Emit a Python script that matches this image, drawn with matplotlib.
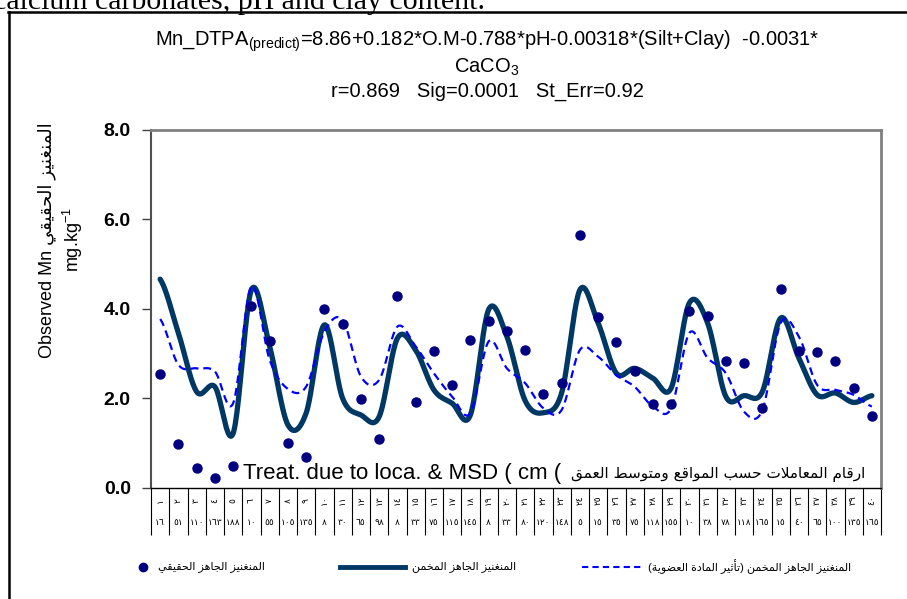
import numpy as np
import matplotlib
matplotlib.use('Agg')
import matplotlib.pyplot as plt
from matplotlib.lines import Line2D

# values (40 treatments)
observed = [2.55, 0.99, 0.45, 0.22, 0.49, 4.07, 3.28, 1.00, 0.70, 4.00,
            3.66, 1.98, 1.09, 4.28, 1.91, 3.05, 2.29, 3.30, 3.72, 3.51,
            3.08, 2.10, 2.34, 5.65, 3.82, 3.26, 2.62, 1.88, 1.87, 3.94,
            3.83, 2.84, 2.80, 1.79, 4.45, 3.05, 3.04, 2.83, 2.24, 1.60]
predicted = [4.66, 3.46, 2.15, 2.26, 1.22, 4.42, 3.16, 1.41, 1.67, 3.64,
             2.00, 1.63, 1.59, 3.34, 3.08, 2.19, 1.89, 1.63, 3.98, 3.38,
             1.95, 1.68, 2.12, 4.42, 3.68, 2.56, 2.67, 2.45, 2.23, 4.13,
             3.68, 2.04, 2.06, 2.15, 3.79, 2.90, 2.08, 2.12, 1.91, 2.06]
predicted_om = [3.77, 2.75, 2.67, 2.60, 1.89, 4.50, 2.86, 2.21, 2.26, 3.49,
                3.75, 2.49, 2.41, 3.60, 3.16, 2.56, 2.04, 1.67, 3.27, 2.67,
                2.34, 1.78, 1.74, 3.08, 2.93, 2.52, 2.26, 1.82, 1.78, 3.46,
                2.90, 2.56, 1.70, 1.74, 3.68, 3.38, 2.30, 2.19, 2.08, 1.82]
depths = ['١٦', '٥١', '١١٠', '١٦٣', '١٨٨', '١٠', '٥٥', '١٠٥', '١٣٥', '٨',
          '٣٠', '٦٥', '٩٨', '٨', '٣٣', '٧٥', '١١٥', '١٤٥', '٨', '٣٣',
          '٨٠', '١٢٠', '١٤٨', '٥', '١٥', '٣٥', '٧٥', '١١٨', '١٥٥', '١٠',
          '٣٨', '٧٨', '١١٨', '١٦٥', '١٥', '٤٠', '٦٥', '١٠٠', '١٣٥', '١٦٥']
treat_labels = [str(i).translate(str.maketrans('0123456789', '٠١٢٣٤٥٦٧٨٩'))
                for i in range(1, 41)]
y_ticks = [0, 2, 4, 6, 8]

# --- tiny arabic shaper (matplotlib does no shaping / bidi) ---
DUAL = {'ب': 0xFE8F, 'ت': 0xFE95, 'ث': 0xFE99, 'ج': 0xFE9D, 'ح': 0xFEA1,
        'خ': 0xFEA5, 'س': 0xFEB1, 'ش': 0xFEB5, 'ص': 0xFEB9, 'ض': 0xFEBD,
        'ط': 0xFEC1, 'ظ': 0xFEC5, 'ع': 0xFEC9, 'غ': 0xFECD, 'ف': 0xFED1,
        'ق': 0xFED5, 'ك': 0xFED9, 'ل': 0xFEDD, 'م': 0xFEE1, 'ن': 0xFEE5,
        'ه': 0xFEE9, 'ي': 0xFEF1}
RIGHT = {'ا': 0xFE8D, 'أ': 0xFE83, 'د': 0xFEA9, 'ذ': 0xFEAB, 'ر': 0xFEAD,
         'ز': 0xFEAF, 'و': 0xFEED, 'ة': 0xFE93, 'ى': 0xFEEF}


def shape(s):
    out = []
    prev = False
    i = 0
    while i < len(s):
        c = s[i]
        if c == 'ل' and i + 1 < len(s) and s[i + 1] in ('ا', 'أ'):
            b = 0xFEFB if s[i + 1] == 'ا' else 0xFEF7
            out.append(chr(b + 1 if prev else b))
            prev = False
            i += 2
            continue
        nxt = s[i + 1] if i + 1 < len(s) else ''
        nxt_ar = nxt in DUAL or nxt in RIGHT
        if c in DUAL:
            b = DUAL[c]
            if prev and nxt_ar:
                f = b + 3
            elif prev:
                f = b + 1
            elif nxt_ar:
                f = b + 2
            else:
                f = b
            out.append(chr(f))
            prev = True
        elif c in RIGHT:
            out.append(chr(RIGHT[c] + 1 if prev else RIGHT[c]))
            prev = False
        else:
            out.append(c)
            prev = False
        i += 1
    return ''.join(out)


def ar(s):
    return shape(s)[::-1].translate(str.maketrans('()', ')('))


def smooth(y, n=24):
    # catmull-rom, like excel's smoothed line
    y = np.asarray(y, float)
    x = np.arange(len(y), dtype=float)
    p = np.concatenate([[y[0]], y, [y[-1]]])
    px = np.concatenate([[x[0] - 1], x, [x[-1] + 1]])
    xs, ys = [], []
    t = np.linspace(0, 1, n, endpoint=False)
    for k in range(1, len(p) - 2):
        for arr, dst in ((px, xs), (p, ys)):
            p0, p1, p2, p3 = arr[k - 1], arr[k], arr[k + 1], arr[k + 2]
            dst.extend(0.5 * ((2 * p1) + (-p0 + p2) * t +
                              (2 * p0 - 5 * p1 + 4 * p2 - p3) * t ** 2 +
                              (-p0 + 3 * p1 - 3 * p2 + p3) * t ** 3))
    xs.append(x[-1])
    ys.append(y[-1])
    return np.array(xs), np.array(ys)


plt.rcParams['font.family'] = ['Liberation Sans', 'DejaVu Sans']
plt.rcParams['mathtext.fontset'] = 'custom'
plt.rcParams['mathtext.rm'] = 'Liberation Sans'

W, H = 907, 599
fig = plt.figure(figsize=(W / 100, H / 100), dpi=100)


def fx(x):
    return x / W


def fy(y):
    return 1 - y / H


ax = fig.add_axes([fx(151), fy(488), fx(881) - fx(151), fy(129.5) - fy(488)])

idx = np.arange(len(observed))
xs, ys = smooth(predicted)
ax.plot(xs, ys, color='#003865', lw=3.8, solid_capstyle='round', zorder=3)
xs, ys = smooth(predicted_om)
ax.plot(xs, ys, color='#0000FF', lw=1.6, ls=(0, (3.5, 2.2)), zorder=4)
ax.plot(idx, observed, 'o', color='#000080', ms=6.5, zorder=5)

ax.set_xlim(-0.5, len(observed) - 0.5)
ax.set_ylim(0, 8)
ax.set_yticks(y_ticks)
ax.set_yticklabels(['%.1f' % v for v in y_ticks], fontweight='bold', fontsize=14)
ax.tick_params(axis='y', direction='out', length=6.5, width=1, color='#404040', pad=8)
ax.set_xticks(np.arange(-0.5, len(observed), 1.0))
ax.set_xticklabels([])
ax.tick_params(axis='x', direction='out', length=34, width=0.8, color='black')
for s in ('top', 'right'):
    ax.spines[s].set_color('#808080')
    ax.spines[s].set_linewidth(2)
ax.spines['left'].set_color('#505050')
ax.spines['left'].set_linewidth(1.5)
ax.spines['bottom'].set_color('black')
ax.spines['bottom'].set_linewidth(1)

tr = ax.get_xaxis_transform()
for i in idx:
    ax.text(i, -0.034, treat_labels[i], transform=tr, rotation=90, fontsize=6.5,
            ha='center', va='center', family='DejaVu Sans')
    ax.text(i, -0.095, depths[i], transform=tr, fontsize=6.5,
            ha='center', va='center', family='DejaVu Sans')

# x title sits inside the plot area
fig.text(fx(243), fy(474), 'Treat. due to loca. & MSD ( cm (',
         ha='left', va='center', fontsize=16)
fig.text(fx(865), fy(474), ar('ارقام المعاملات حسب المواقع ومتوسط العمق'),
         ha='right', va='center', fontsize=11.0, family='DejaVu Sans')

# titles
cx = fx(487)
fig.text(cx, fy(41), r'Mn_DTPA$_{\mathregular{(predict)}}$=8.86+0.182*O.M-0.788*pH-0.00318*(Silt+Clay)  -0.0031*',
         ha='center', va='center', fontsize=14.5)
fig.text(cx, fy(67), r'CaCO$_{\mathregular{3}}$', ha='center', va='center', fontsize=14.5)
fig.text(cx, fy(91), 'r=0.869   Sig=0.0001   St_Err=0.92', ha='center', va='center', fontsize=14.5)

# y label (two lines)
fig.text(fx(47), fy(240), 'Observed Mn ' + ar('المنغنيز الحقيقي'), rotation=90,
         ha='center', va='center', fontsize=13)
fig.text(fx(73), fy(240), r'mg.kg$^{\mathregular{-1}}$', rotation=90,
         ha='center', va='center', fontsize=13)

# surrounding document bits
fig.text(fx(485), fy(9), 'of organic matter, calcium carbonates, pH and clay content.',
         ha='right', va='baseline', fontsize=21.5, family='Liberation Serif')
fig.add_artist(Line2D([fx(9), fx(9)], [fy(12), fy(H + 5)], color='black', lw=1.8,
                      transform=fig.transFigure))
fig.add_artist(Line2D([fx(8), fx(W + 5)], [fy(12), fy(12)], color='black', lw=1.8,
                      transform=fig.transFigure))

# legend
ly = fy(567)
fig.add_artist(Line2D([fx(143)], [ly], marker='o', ms=6, color='#000080', ls='none',
                      transform=fig.transFigure))
fig.text(fx(158), ly, ar('المنغنيز الجاهز الحقيقي'), ha='left', va='center', fontsize=8)
fig.add_artist(Line2D([fx(340), fx(405)], [ly, ly], color='#003865', lw=3.5,
                      transform=fig.transFigure))
fig.text(fx(412), ly, ar('المنغنيز الجاهز المخمن'), ha='left', va='center', fontsize=8)
fig.add_artist(Line2D([fx(582), fx(642)], [ly, ly], color='#0000FF', lw=1.5,
                      ls=(0, (3, 2)), transform=fig.transFigure))
fig.text(fx(648), ly, ar('المنغنيز الجاهز المخمن (تأثير المادة العضوية)'), ha='left',
         va='center', fontsize=8)

fig.savefig('out.png', dpi=100)
